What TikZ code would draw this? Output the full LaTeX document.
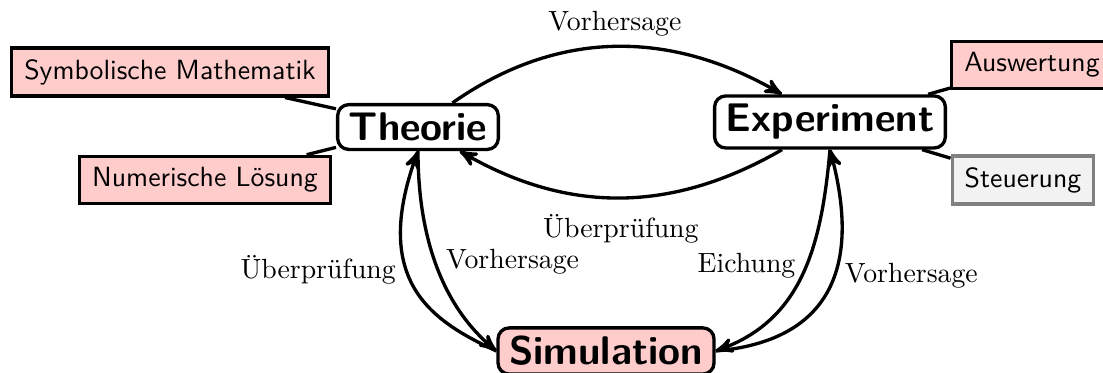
\documentclass[tikz,border=0pt]{standalone}
\usepackage{fontspec}
\usepackage{tikz}
\usetikzlibrary{arrows,positioning,calc}
\definecolor{boxpink}{RGB}{255,204,204}

\begin{document}
\begin{tikzpicture}[very thick,>=stealth',
    hauptknoten/.style={draw,rounded corners,fill=white,font=\sffamily\bfseries\Large,inner xsep=4pt,inner ysep=3pt},
    nebenknoten/.style={draw,fill=boxpink,font=\sffamily,inner xsep=4.5pt,inner ysep=4pt},
    pfeil/.style={->}]
  \useasboundingbox (0,0) rectangle (13.962,-4.709);

  % Hauptknoten
  \node[hauptknoten] (theorie) at (5.291,-1.608) {Theorie};
  \node[hauptknoten] (experiment) at (10.506,-1.544) {Experiment};
  \node[hauptknoten,fill=boxpink] (sim) at (7.671,-4.443) {Simulation};

  % Nebenknoten
  \node[nebenknoten] (symb) at (2.152,-0.911) {Symbolische Mathematik};
  \node[nebenknoten] (num) at (2.595,-2.278) {Numerische Lösung};
  \node[nebenknoten] (ausw) at (13.063,-0.823) {Auswertung};
  \node[nebenknoten,draw=gray,fill=gray!10] (steu) at (12.949,-2.278) {Steuerung};

  \draw (symb) -- (theorie);
  \draw (num) -- (theorie);
  \draw (ausw) -- (experiment);
  \draw (steu) -- (experiment);

  % Theorie <-> Experiment
  \draw[pfeil] (theorie) to[out=35,in=150] node[above] (vorTE) {Vorhersage} (experiment);
  \draw[pfeil] (experiment) to[out=210,in=-30] node[below=2pt] (uebET) {Überprüfung} (theorie);

  % Theorie <-> Simulation
  \draw[pfeil] (theorie.south) to[out=270,in=140,out looseness=1.06,in looseness=.82]
    node[right,pos=.47] (vorTS) {Vorhersage} (sim.west);
  \draw[pfeil] (sim.west) to[out=155,in=250,out looseness=.83,in looseness=1.67]
    node[left,pos=.6] (uebST) {Überprüfung} (theorie.south);

  % Experiment <-> Simulation
  \draw[pfeil] (experiment.south) to[out=265,in=20,out looseness=1.1,in looseness=1]
    node[left,pos=.45] (eichES) {Eichung} (sim.east);
  \draw[pfeil] (sim.east) to[out=5,in=285,out looseness=1.1,in looseness=1.54]
    node[right,pos=.6] (vorSE) {Vorhersage} (experiment.south);
\end{tikzpicture}
\end{document}
